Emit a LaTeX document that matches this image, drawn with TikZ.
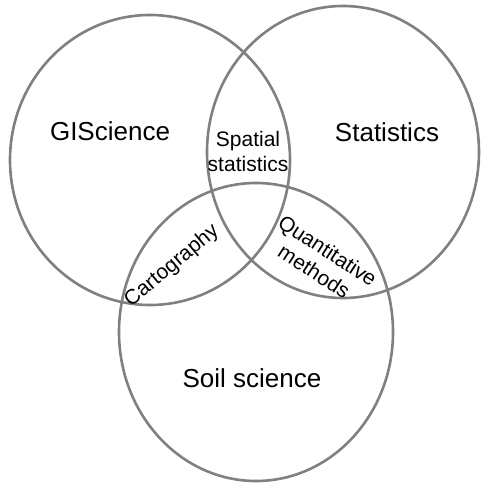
\documentclass[tikz,border=0pt]{standalone}
\usepackage{fontspec}
\setmainfont{Liberation Sans}
\tikzset{
  ring/.style={draw=black!50, line width=2.6pt},
  biglabel/.style={font=\fontsize{26}{30}\selectfont, inner sep=0pt},
  smalllabel/.style={font=\fontsize{21}{25}\selectfont, inner sep=0pt, align=center},
}
\begin{document}
\begin{tikzpicture}[x=1pt,y=-1pt]
\useasboundingbox (0,0) rectangle (480,484);
\draw[ring] (150,160) ellipse [x radius=140pt, y radius=145pt];
\draw[ring] (343,152) ellipse [x radius=136pt, y radius=146pt];
\draw[ring] (256,332) ellipse [x radius=137pt, y radius=149pt];
\node[biglabel] (gis) at (110,131.5) {GIScience};
\node[biglabel] (stat) at (387,132) {Statistics};
\node[biglabel] (soil) at (252,378) {Soil science};
\node[smalllabel] (spat) at (248,151) {Spatial\\statistics};
\node[smalllabel, rotate=40] (carto) at (172,266) {Cartography};
\node[smalllabel, rotate=-33] (quant) at (321,261) {Quantitative\\methods};
\end{tikzpicture}
\end{document}
